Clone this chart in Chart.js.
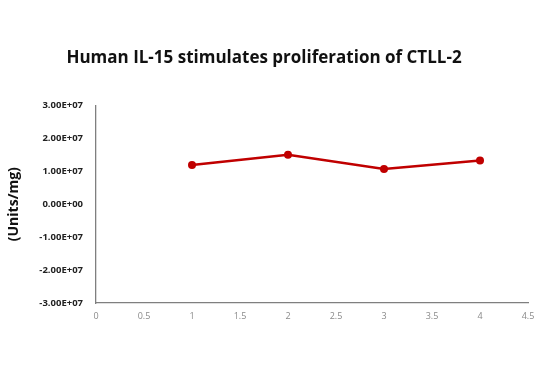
<!DOCTYPE html>
<html lang="en">
<head>
    <meta charset="UTF-8">
    <title>Human IL-15 stimulates proliferation of CTLL-2</title>
    <script src="https://cdn.jsdelivr.net/npm/chart.js"></script>
    <style>
        body {
            margin: 0;
            padding: 0;
            background: white;
        }
        .wrap {
            width: 550px;
            height: 368px;
        }
    </style>
</head>
<body>
    <div class="wrap">
        <canvas id="graph" width="550" height="368"></canvas>
    </div>
<script>
    // concentrations along x and measured activity
    const xValues = [1, 2, 3, 4];
    const activity = [1.19e7, 1.50e7, 1.07e7, 1.33e7];
    const xTicks = [0, 0.5, 1, 1.5, 2, 2.5, 3, 3.5, 4, 4.5];
    const yTicks = [-3e7, -2e7, -1e7, 0, 1e7, 2e7, 3e7];

    function sciLabel(v) {
        if (v === 0) return '0.00E+00';
        const exp = Math.floor(Math.log10(Math.abs(v)));
        const mant = (v / Math.pow(10, exp)).toFixed(2);
        const sign = exp < 0 ? '-' : '+';
        return mant + 'E' + sign + String(Math.abs(exp)).padStart(2, '0');
    }

    const points = xValues.map((x, i) => ({ x: x, y: activity[i] }));

    new Chart(document.getElementById('graph').getContext('2d'), {
        type: 'scatter',
        data: {
            datasets: [{
                data: points,
                showLine: true,
                borderColor: '#c00000',
                backgroundColor: '#c00000',
                borderWidth: 2.5,
                pointRadius: 4,
                pointBorderWidth: 0
            }]
        },
        options: {
            responsive: false,
            animation: false,
            layout: { padding: { left: 0, right: 22, top: 0, bottom: 0 } },
            plugins: {
                legend: { display: false },
                tooltip: { enabled: false },
                title: {
                    display: true,
                    text: 'Human IL-15 stimulates proliferation of CTLL-2',
                    color: '#111',
                    font: { family: 'Open Sans', size: 17, weight: 'bold', lineHeight: 1.2 },
                    padding: { top: 48, bottom: 37 }
                }
            },
            scales: {
                x: {
                    type: 'linear',
                    min: 0,
                    max: 4.5,
                    afterBuildTicks: s => { s.ticks = xTicks.map(v => ({ value: v })); },
                    afterFit: s => { s.height = 65; },
                    grid: { display: false, drawTicks: false },
                    border: { display: true, color: '#7f7f7f', width: 1.3 },
                    ticks: {
                        padding: 8,
                        color: '#8a8a8a',
                        font: { family: 'Open Sans', size: 9 },
                        maxRotation: 0,
                        autoSkip: false,
                        callback: v => String(v)
                    }
                },
                y: {
                    type: 'linear',
                    min: -3e7,
                    max: 3e7,
                    afterBuildTicks: s => { s.ticks = yTicks.map(v => ({ value: v })); },
                    afterFit: s => { s.width = 96; },
                    grid: { display: false, drawTicks: false },
                    border: { display: true, color: '#7f7f7f', width: 1.3 },
                    ticks: {
                        padding: 13,
                        color: '#222',
                        font: { family: 'Open Sans', size: 9.5, weight: 'bold' },
                        callback: v => sciLabel(v)
                    },
                    title: {
                        display: true,
                        text: '(Units/mg)',
                        color: '#111',
                        font: { family: 'Open Sans', size: 14, weight: 'bold' },
                        padding: { top: 6, bottom: 0 }
                    }
                }
            }
        }
    });
</script>
</body>
</html>
